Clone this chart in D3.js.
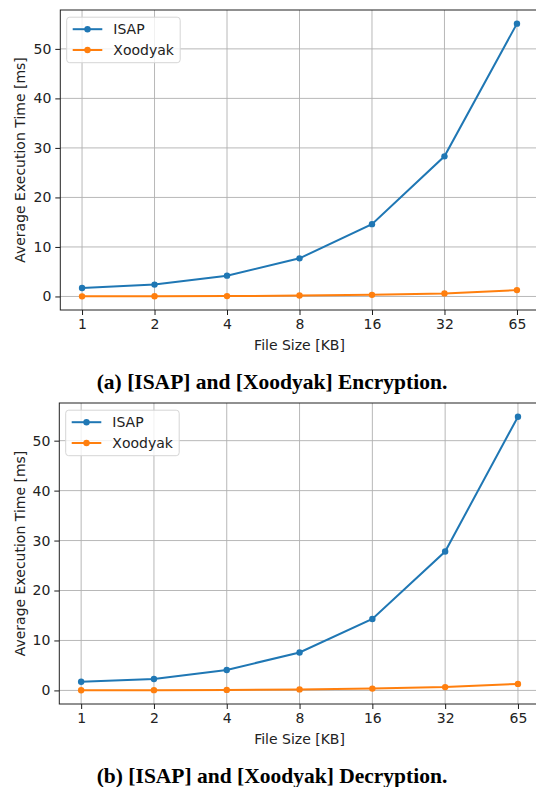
<!DOCTYPE html>
<html>
<meta charset="utf-8">
<title>ISAP vs Xoodyak</title>
<head>
  <script src="https://cdnjs.cloudflare.com/ajax/libs/d3/7.8.5/d3.min.js"></script>
  <style>
    body { margin: 0; background: #fff; }
    svg { display: block; }
  </style>
</head>
<body>
  <script>
    // data
    var fileSizes = ["1", "2", "4", "8", "16", "32", "65"];
    var encIsap = [1.7, 2.4, 4.2, 7.7, 14.6, 28.3, 55.1];
    var encXoodyak = [0.02, 0.04, 0.07, 0.18, 0.33, 0.62, 1.28];
    var decIsap = [1.75, 2.3, 4.1, 7.6, 14.3, 27.8, 54.8];
    var decXoodyak = [0.02, 0.05, 0.1, 0.2, 0.36, 0.66, 1.3];
    var yTicks = [0, 10, 20, 30, 40, 50];
    var seriesNames = ["ISAP", "Xoodyak"];
    var colors = ["#1f77b4", "#ff7f0e"];

    var W = 536, H = 787;
    var FONT = "DejaVu Sans, sans-serif";

    var svg = d3.select("body")
        .append("svg")
        .attr("width", W)
        .attr("height", H);

    function drawPanel(box, series, caption) {
      var g = svg.append("g");
      var all = series[0].concat(series[1]);
      var ext = d3.extent(all);
      var pad = (ext[1] - ext[0]) * 0.05;

      var x = d3.scalePoint()
          .domain(fileSizes)
          .range([box.left, box.right])
          .padding(0.3);
      var y = d3.scaleLinear()
          .domain([ext[0] - pad, ext[1] + pad])
          .range([box.bottom, box.top]);

      // grid
      g.selectAll(".vgrid")
        .data(fileSizes)
        .enter().append("line")
        .attr("x1", function(d) { return x(d); })
        .attr("x2", function(d) { return x(d); })
        .attr("y1", box.top).attr("y2", box.bottom)
        .style("stroke", "#b0b0b0").style("stroke-width", 0.9);
      g.selectAll(".hgrid")
        .data(yTicks)
        .enter().append("line")
        .attr("x1", box.left).attr("x2", box.right)
        .attr("y1", function(d) { return y(d); })
        .attr("y2", function(d) { return y(d); })
        .style("stroke", "#b0b0b0").style("stroke-width", 0.9);

      // axes
      var xAxis = g.append("g")
          .attr("transform", "translate(0," + box.bottom + ")")
          .call(d3.axisBottom(x).tickSize(5).tickPadding(4).tickSizeOuter(0));
      var yAxis = g.append("g")
          .attr("transform", "translate(" + box.left + ",0)")
          .call(d3.axisLeft(y).tickValues(yTicks).tickSize(5).tickPadding(4).tickSizeOuter(0));
      [xAxis, yAxis].forEach(function(a) {
        a.select(".domain").remove();
        a.selectAll("line").style("stroke", "#000").style("stroke-width", 0.9);
        a.selectAll("text").style("font-family", FONT).style("font-size", "14px").style("fill", "#222");
      });

      // lines + markers
      var line = d3.line()
          .x(function(d, i) { return x(fileSizes[i]); })
          .y(function(d) { return y(d); });
      series.forEach(function(s, k) {
        g.append("path")
          .datum(s)
          .attr("d", line)
          .style("fill", "none")
          .style("stroke", colors[k])
          .style("stroke-width", 2);
        g.selectAll(".dot" + k)
          .data(s)
          .enter().append("circle")
          .attr("cx", function(d, i) { return x(fileSizes[i]); })
          .attr("cy", function(d) { return y(d); })
          .attr("r", 3.2)
          .style("fill", colors[k]);
      });

      // frame
      g.append("rect")
        .attr("x", box.left).attr("y", box.top)
        .attr("width", box.right - box.left)
        .attr("height", box.bottom - box.top)
        .style("fill", "none")
        .style("stroke", "#222")
        .style("stroke-width", 1);

      // legend
      var lg = g.append("g")
          .attr("transform", "translate(" + (box.left + 6.4) + "," + (box.top + 7.2) + ")");
      lg.append("rect")
        .attr("width", 113.5).attr("height", 45.5)
        .attr("rx", 3)
        .style("fill", "#fff").style("fill-opacity", 0.8)
        .style("stroke", "#d6d6d6").style("stroke-width", 1);
      seriesNames.forEach(function(name, k) {
        var ry = 12 + k * 20.8;
        lg.append("line")
          .attr("x1", 6).attr("x2", 35.6)
          .attr("y1", ry).attr("y2", ry)
          .style("stroke", colors[k]).style("stroke-width", 2);
        lg.append("circle")
          .attr("cx", 20.8).attr("cy", ry).attr("r", 3.2)
          .style("fill", colors[k]);
        lg.append("text")
          .attr("x", 46.6).attr("y", ry + 5)
          .style("font-family", FONT).style("font-size", "14px").style("fill", "#222")
          .text(name);
      });

      // axis titles
      g.append("text")
        .attr("transform", "translate(24.5," + ((box.top + box.bottom) / 2) + ") rotate(-90)")
        .attr("text-anchor", "middle")
        .style("font-family", FONT).style("font-size", "14px").style("fill", "#222")
        .text("Average Execution Time [ms]");
      g.append("text")
        .attr("x", (box.left + box.right) / 2)
        .attr("y", box.bottom + 40)
        .attr("text-anchor", "middle")
        .style("font-family", FONT).style("font-size", "14px").style("fill", "#222")
        .text("File Size [KB]");

      // caption
      g.append("text")
        .attr("x", 272)
        .attr("y", box.bottom + 78.5)
        .attr("text-anchor", "middle")
        .style("font-family", "Liberation Serif, Times New Roman, serif")
        .style("font-weight", "bold")
        .style("font-size", "21.5px")
        .style("fill", "#000")
        .text(caption);
    }

    drawPanel({left: 60.3, right: 538.7, top: 10, bottom: 310},
      [encIsap, encXoodyak], "(a) [ISAP] and [Xoodyak] Encryption.");
    drawPanel({left: 59.3, right: 539.8, top: 403, bottom: 704},
      [decIsap, decXoodyak], "(b) [ISAP] and [Xoodyak] Decryption.");
  </script>
</body>
</html>
